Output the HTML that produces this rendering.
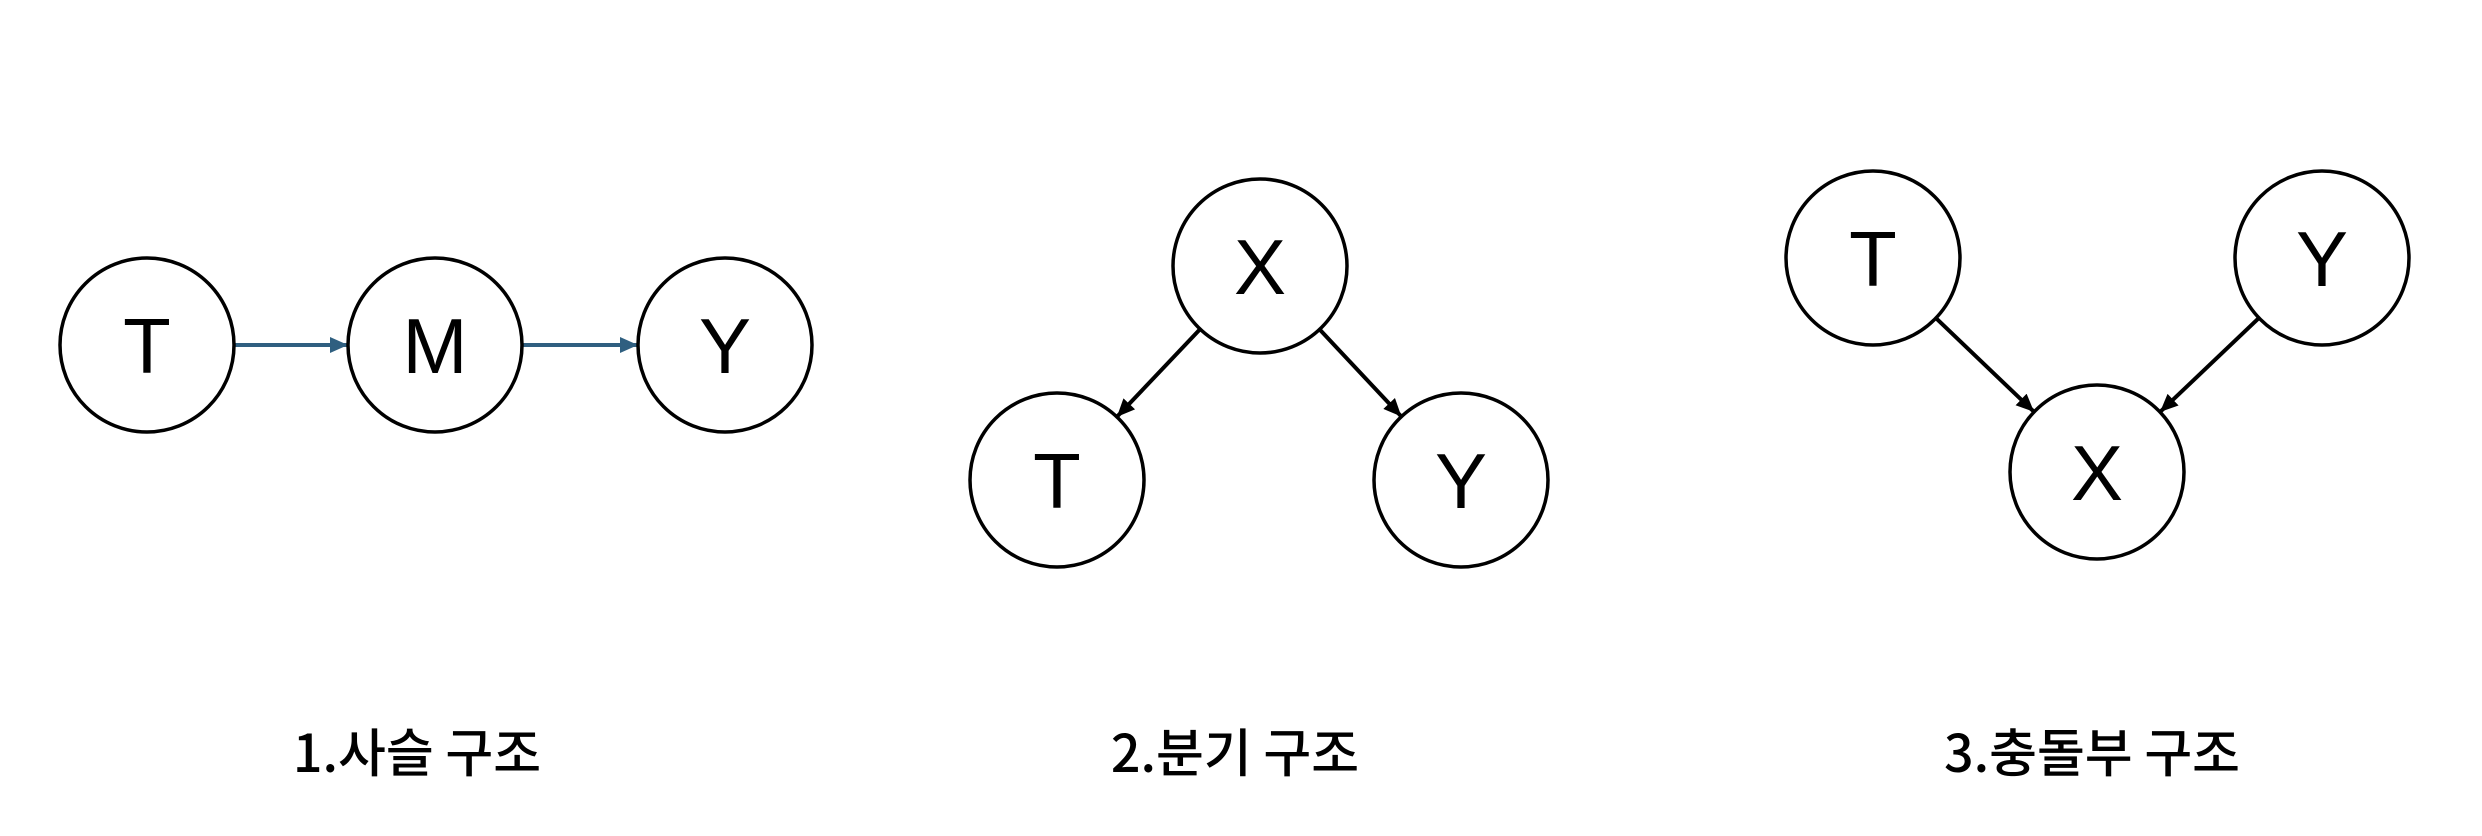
<!DOCTYPE html>
<html><head><meta charset="utf-8"><style>
html,body{margin:0;padding:0;background:#fff;width:2482px;height:836px;overflow:hidden}
svg{display:block}
text{font-family:"Liberation Sans","Noto Sans CJK KR",sans-serif}
.lbl{font-family:"Noto Sans CJK KR","NanumGothic",sans-serif;font-weight:500}
</style></head><body>
<svg id="s" width="2482" height="836" viewBox="0 0 2482 836">
<defs>
<marker id="ab" markerWidth="18" markerHeight="16" refX="17" refY="8" orient="auto" markerUnits="userSpaceOnUse" viewBox="0 0 18 16"><path d="M0,0 L18,8 L0,16 z" fill="#2f5f80"/></marker>
<marker id="ak" markerWidth="18" markerHeight="16" refX="17" refY="8" orient="auto" markerUnits="userSpaceOnUse" viewBox="0 0 18 16"><path d="M0,0 L18,8 L0,16 z" fill="#000"/></marker>
</defs>
<g id="g"></g>
<text class="lbl" x="417" y="772" font-size="52" text-anchor="middle">1.사슬 구조</text>
<text class="lbl" x="1235" y="772" font-size="52" text-anchor="middle">2.분기 구조</text>
<text class="lbl" x="2092" y="772" font-size="52" text-anchor="middle">3.충돌부 구조</text>
</svg>
<script>
const nodeNames=["chain-t","chain-m","chain-y","fork-x","fork-t","fork-y","collider-t","collider-y","collider-x"];
const nodeLabels=["T","M","Y","X","T","Y","T","Y","X"];
const nodeX=[147,435,725,1260,1057,1461,1873,2322,2097];
const nodeY=[345,345,345,266,480,480,258,258,472];
const edgeFrom=[0,1,3,3,6,7];
const edgeTo=[1,2,4,5,8,8];
const edgeBlue=[1,1,0,0,0,0];
const R=87, NS="http://www.w3.org/2000/svg";
const g=document.getElementById('g');
for(let i=0;i<edgeFrom.length;i++){
  const a=edgeFrom[i],b=edgeTo[i];
  const dx=nodeX[b]-nodeX[a],dy=nodeY[b]-nodeY[a],d=Math.hypot(dx,dy);
  const ux=dx/d,uy=dy/d;
  const l=document.createElementNS(NS,'line');
  l.setAttribute('x1',nodeX[a]+ux*R);l.setAttribute('y1',nodeY[a]+uy*R);
  l.setAttribute('x2',nodeX[b]-ux*(R+1));l.setAttribute('y2',nodeY[b]-uy*(R+1));
  l.setAttribute('stroke',edgeBlue[i]?'#2f5f80':'#000');
  l.setAttribute('stroke-width',4);
  l.setAttribute('marker-end',edgeBlue[i]?'url(#ab)':'url(#ak)');
  
  
  g.appendChild(l);
}
for(let i=0;i<nodeX.length;i++){
  const c=document.createElementNS(NS,'circle');
  c.setAttribute('cx',nodeX[i]);c.setAttribute('cy',nodeY[i]);c.setAttribute('r',R);
  c.setAttribute('fill','#fff');c.setAttribute('stroke','#000');c.setAttribute('stroke-width',3.5);
  
  
  g.appendChild(c);
  const t=document.createElementNS(NS,'text');
  t.setAttribute('x',nodeX[i]);t.setAttribute('y',nodeY[i]+28);
  t.setAttribute('font-size',78);t.setAttribute('text-anchor','middle');
  t.textContent=nodeLabels[i];
  
  
  g.appendChild(t);
}
</script>
</body></html>
